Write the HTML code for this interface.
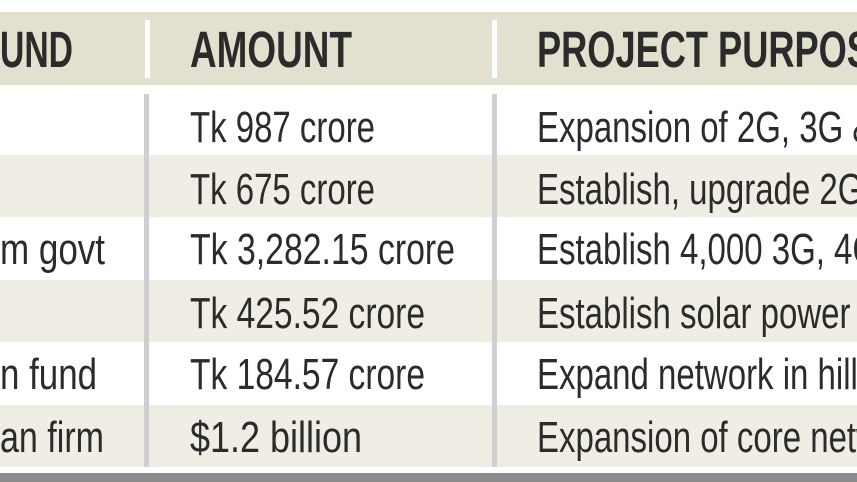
<!DOCTYPE html>
<html><head><meta charset="utf-8"><style>
html,body{margin:0;padding:0;background:#fff;overflow:hidden}
svg{display:block}
text{font-family:"Liberation Sans",sans-serif;fill:#2b2b2b}
</style></head><body>
<svg width="857" height="482" viewBox="0 0 857 482">
<rect x="0" y="0" width="857" height="482" fill="#fff"/>
<rect x="0" y="12" width="857" height="73" fill="#e4e0cf"/>
<rect x="145" y="20" width="5" height="58" fill="#fff"/>
<rect x="492" y="20" width="5" height="58" fill="#fff"/>
<rect x="0" y="155" width="857" height="62" fill="#f0ede4"/>
<rect x="0" y="280" width="857" height="62" fill="#f0ede4"/>
<rect x="0" y="405" width="857" height="62" fill="#f0ede4"/>
<rect x="144" y="94" width="5" height="373" fill="#cfcfd2"/>
<rect x="492" y="94" width="5" height="373" fill="#cfcfd2"/>
<rect x="0" y="473" width="857" height="9" fill="#8a8a8a"/>
<g font-weight="bold" font-size="51">
<text x="73" y="67" text-anchor="end" textLength="73" lengthAdjust="spacingAndGlyphs">UND</text>
<text x="190" y="67" textLength="162" lengthAdjust="spacingAndGlyphs">AMOUNT</text>
<g transform="translate(537,67) scale(0.71,1)"><text x="0" y="0">PROJECT PURPOSE</text></g>
</g>
<g font-size="44">
<text x="190" y="142" textLength="185" lengthAdjust="spacingAndGlyphs">Tk 987 crore</text>
<text x="190" y="204" textLength="185" lengthAdjust="spacingAndGlyphs">Tk 675 crore</text>
<text x="190" y="264" textLength="265" lengthAdjust="spacingAndGlyphs">Tk 3,282.15 crore</text>
<text x="190" y="328" textLength="235" lengthAdjust="spacingAndGlyphs">Tk 425.52 crore</text>
<text x="190" y="389" textLength="235" lengthAdjust="spacingAndGlyphs">Tk 184.57 crore</text>
<text x="190" y="452" textLength="172" lengthAdjust="spacingAndGlyphs">$1.2 billion</text>
<text x="105" y="264" text-anchor="end" textLength="105" lengthAdjust="spacingAndGlyphs">m govt</text>
<text x="97" y="389" text-anchor="end" textLength="97" lengthAdjust="spacingAndGlyphs">n fund</text>
<text x="104" y="452" text-anchor="end" textLength="104" lengthAdjust="spacingAndGlyphs">an firm</text>
<g transform="translate(537,0) scale(0.75,1)">
<text x="0" y="142">Expansion of 2G, 3G &amp; 4G</text>
<text x="0" y="204">Establish, upgrade 2G</text>
<text x="0" y="264">Establish 4,000 3G, 4G</text>
<text x="0" y="328">Establish solar power</text>
<text x="0" y="389">Expand network in hilly</text>
<text x="0" y="452">Expansion of core network</text>
</g>
</g>
</svg>
</body></html>
